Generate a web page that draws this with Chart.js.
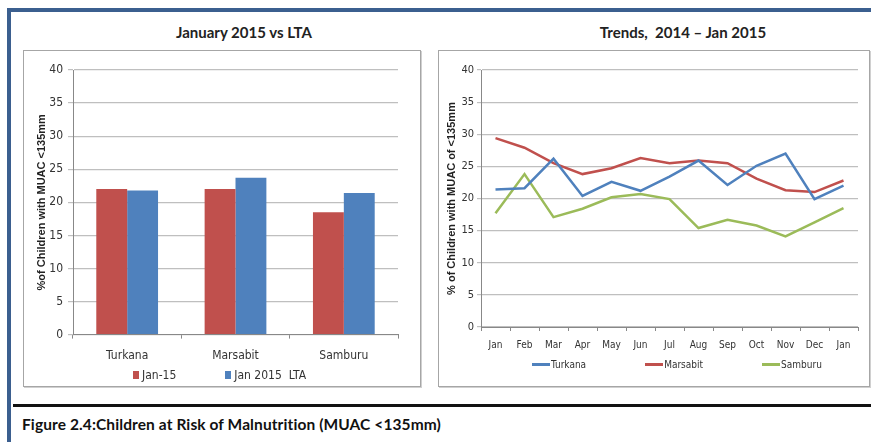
<!DOCTYPE html>
<html lang="en">
<head>
<meta charset="UTF-8">
<title>Children at Risk of Malnutrition</title>
<script src="https://cdn.jsdelivr.net/npm/chart.js"></script>
<style>
    body {
        margin: 0;
        width: 871px;
        height: 442px;
        overflow: hidden;
        position: relative;
        background: #fff;
        font-family: Lato, sans-serif;
    }

    .frame-top {
        position: absolute;
        left: 7px;
        top: 8px;
        width: 864px;
        height: 4px;
        background: #3b5f8f;
    }

    .frame-left {
        position: absolute;
        left: 7px;
        top: 8px;
        width: 4px;
        height: 434px;
        background: #3b5f8f;
    }

    .title {
        position: absolute;
        top: 23px;
        font-weight: 700;
        font-size: 15px;
        color: #222;
        text-align: center;
        white-space: pre;
    }

    .box {
        position: absolute;
        top: 50px;
        height: 335px;
        border: 1px solid #a6a6a6;
        box-shadow: 1px 1px 0 #d0d0d0;
    }

    .box canvas {
        position: absolute;
        left: 0;
        top: 0;
    }

    .legend {
        position: absolute;
        display: flex;
        align-items: center;
        font-family: 'Liberation Sans Narrow', 'DejaVu Sans Condensed', sans-serif;
        color: #333;
        white-space: pre;
    }

    .legend .item {
        display: flex;
        align-items: center;
    }

    .key-box {
        width: 6px;
        height: 8px;
        margin-right: 3px;
    }

    .key-line {
        width: 18px;
        height: 2.5px;
        margin-right: 1px;
    }

    .rule {
        position: absolute;
        left: 13px;
        top: 404px;
        width: 858px;
        height: 3px;
        background: #111;
    }

    .caption {
        position: absolute;
        left: 22px;
        top: 415px;
        font-size: 15.5px;
        font-weight: 700;
        letter-spacing: 0.1px;
        color: #111;
    }
</style>
</head>
<body>
<div class="frame-top"></div>
<div class="frame-left"></div>

<div class="title" style="left: 144px; width: 200px;">January 2015 vs LTA</div>
<div class="title" style="left: 583px; width: 200px;">Trends,  2014 – Jan 2015</div>

<div class="box" style="left: 23px; width: 396px;">
    <canvas id="barChart" width="396" height="335"></canvas>
    <div class="legend" id="barLegend" style="left: 109px; top: 317px; font-size: 12px; gap: 49px;"></div>
</div>

<div class="box" style="left: 438px; width: 430px;">
    <canvas id="lineChart" width="430" height="335"></canvas>
    <div class="legend" id="lineLegend" style="left: 93px; top: 308px; font-size: 10px; gap: 59px;"></div>
</div>

<div class="rule"></div>
<div class="caption">Figure 2.4:Children at Risk of Malnutrition (MUAC &lt;135mm)</div>

<script>
    // data
    var counties = ['Turkana', 'Marsabit', 'Samburu'];
    var jan15 = [22.0, 22.0, 18.5];
    var lta2015 = [21.8, 23.7, 21.4];

    var months = ['Jan', 'Feb', 'Mar', 'Apr', 'May', 'Jun', 'Jul', 'Aug', 'Sep', 'Oct', 'Nov', 'Dec', 'Jan'];
    var turkana = [21.4, 21.6, 26.2, 20.4, 22.6, 21.2, 23.4, 25.9, 22.1, 25.1, 27.0, 19.9, 22.0];
    var marsabit = [29.4, 27.9, 25.5, 23.8, 24.7, 26.3, 25.5, 25.9, 25.5, 23.1, 21.3, 21.0, 22.8];
    var samburu = [17.7, 23.8, 17.1, 18.4, 20.2, 20.7, 19.9, 15.4, 16.7, 15.8, 14.1, 16.3, 18.5];

    var yMin = 0;
    var yMax = 40;
    var yStep = 5;

    var RED = '#c0504d';
    var BLUE = '#4f81bd';
    var GREEN = '#9bbb59';
    var narrow = "'Liberation Sans Narrow', 'DejaVu Sans Condensed', sans-serif";

    // build an html legend from the chart's own legend items
    var htmlLegend = {
        id: 'htmlLegend',
        afterUpdate: function (chart, args, opts) {
            var box = document.getElementById(opts.containerID);
            box.innerHTML = '';
            chart.options.plugins.legend.labels.generateLabels(chart).forEach(function (item) {
                var el = document.createElement('span');
                el.className = 'item';
                var key = document.createElement('span');
                key.className = opts.line ? 'key-line' : 'key-box';
                key.style.background = opts.line ? item.strokeStyle : item.fillStyle;
                var txt = document.createElement('span');
                txt.textContent = item.text;
                el.appendChild(key);
                el.appendChild(txt);
                box.appendChild(el);
            });
        }
    };

    Chart.defaults.animation = false;
    Chart.defaults.color = '#333';

    new Chart(document.getElementById('barChart'), {
        type: 'bar',
        data: {
            labels: counties,
            datasets: [
                { label: 'Jan-15', data: jan15, backgroundColor: RED },
                { label: 'Jan 2015  LTA', data: lta2015, backgroundColor: BLUE }
            ]
        },
        options: {
            responsive: false,
            barPercentage: 1,
            categoryPercentage: 0.57,
            layout: { padding: { top: 19, right: 22, left: 0, bottom: 13 } },
            plugins: {
                legend: { display: false },
                tooltip: { enabled: false },
                htmlLegend: { containerID: 'barLegend', line: false }
            },
            scales: {
                x: {
                    grid: { drawOnChartArea: false, offset: true, tickLength: 4, color: '#888' },
                    border: { color: '#888' },
                    ticks: { padding: 10, font: { family: narrow, size: 12 }, color: '#333' }
                },
                y: {
                    min: yMin,
                    max: yMax,
                    afterFit: function (scale) { scale.width = 49; },
                    ticks: { stepSize: yStep, padding: 5, font: { family: narrow, size: 12 }, color: '#333' },
                    grid: { color: '#bfbfbf', lineWidth: 1.2, tickLength: 5 },
                    border: { color: '#888' },
                    title: {
                        display: true,
                        text: '%of Children with MUAC <135mm',
                        color: '#222',
                        padding: { top: 11, bottom: 0 },
                        font: { family: "'Liberation Sans', Arial, sans-serif", size: 11, weight: 'bold' }
                    }
                }
            }
        },
        plugins: [htmlLegend]
    });

    new Chart(document.getElementById('lineChart'), {
        type: 'line',
        data: {
            labels: months,
            datasets: [
                { label: 'Turkana', data: turkana, borderColor: BLUE, backgroundColor: BLUE },
                { label: 'Marsabit', data: marsabit, borderColor: RED, backgroundColor: RED },
                { label: 'Samburu', data: samburu, borderColor: GREEN, backgroundColor: GREEN }
            ]
        },
        options: {
            responsive: false,
            elements: {
                line: { borderWidth: 2.5, tension: 0 },
                point: { radius: 0 }
            },
            layout: { padding: { top: 19, right: 11, left: 0, bottom: 27 } },
            plugins: {
                legend: { display: false },
                tooltip: { enabled: false },
                htmlLegend: { containerID: 'lineLegend', line: true }
            },
            scales: {
                x: {
                    offset: true,
                    grid: { drawOnChartArea: false, offset: true, tickLength: 4, color: '#888' },
                    border: { color: '#888' },
                    ticks: { padding: 8, font: { family: narrow, size: 10 }, color: '#333' }
                },
                y: {
                    min: yMin,
                    max: yMax,
                    afterFit: function (scale) { scale.width = 42; },
                    ticks: { stepSize: yStep, padding: 3, font: { family: narrow, size: 11 }, color: '#333' },
                    grid: { color: '#bfbfbf', lineWidth: 1.2, tickLength: 4 },
                    border: { color: '#888' },
                    title: {
                        display: true,
                        text: '% of Children with MUAC of <135mm',
                        color: '#222',
                        padding: { top: 6, bottom: 0 },
                        font: { family: "'Liberation Sans', Arial, sans-serif", size: 11, weight: 'bold' }
                    }
                }
            }
        },
        plugins: [htmlLegend]
    });
</script>
</body>
</html>
